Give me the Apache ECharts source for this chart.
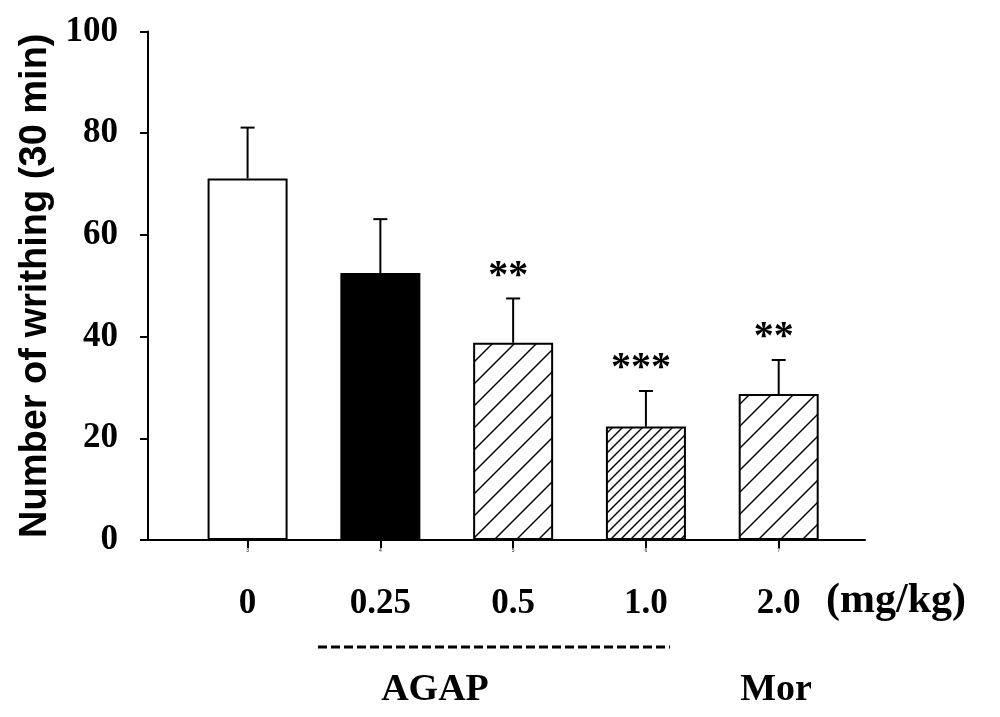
<!DOCTYPE html>
<html>
<head>
<meta charset="utf-8">
<script src="https://cdn.jsdelivr.net/npm/echarts@6/dist/echarts.min.js"></script>
<style>html,body{margin:0;padding:0;background:#fff;}#c{width:1000px;height:717px;}</style>
</head>
<body>
<div id="c"></div>
<script>
// ---- data ----
var positions = [3, 4, 5, 6, 7];
var means = [71.1, 52.5, 38.8, 22.3, 28.7];
var sems = [10.0, 10.6, 8.7, 7.0, 6.7];
var stars = ['', '', '**', '***', '**'];
var doseLabels = ['0', '0.25', '0.5', '1.0', '2.0'];
var yTicks = [0, 20, 40, 60, 80, 100];
var groupLabels = ['AGAP', 'Mor'];

function hatch(p) {
  var c = document.createElement('canvas');
  c.width = p; c.height = p;
  var g = c.getContext('2d');
  g.fillStyle = '#fff'; g.fillRect(0, 0, p, p);
  g.strokeStyle = '#000'; g.lineWidth = 1.4;
  for (var k = -1; k <= 1; k++) {
    g.beginPath();
    g.moveTo(k * p - 1, p + 1);
    g.lineTo(k * p + p + 1, -1);
    g.stroke();
  }
  return { image: c, repeat: 'repeat' };
}
var wide = hatch(22), dense = hatch(10);
var fills = ['#ffffff', '#000000', wide, dense, wide];

var chart = echarts.init(document.getElementById('c'), null, { renderer: 'canvas' });
var serif = '"Liberation Serif", "Times New Roman", serif';

var barData = positions.map(function (x, i) {
  return { value: [x, means[i]], itemStyle: { color: fills[i], borderColor: '#000', borderWidth: 2 } };
});
var errData = positions.map(function (x, i) { return [x, means[i], sems[i], i]; });

chart.setOption({
  animation: false,
  backgroundColor: '#fff',
  grid: { left: 148, right: 135, top: 31.5, bottom: 177 },
  xAxis: [{
    type: 'value', min: 2.25, max: 7.65,
    axisLine: { show: true, onZero: false, lineStyle: { color: '#000', width: 2 } },
    axisTick: { show: true, customValues: positions, length: 8, lineStyle: { color: '#000', width: 2 } },
    axisLabel: { show: true, customValues: positions, fontSize: 5, color: '#222', margin: 8 },
    splitLine: { show: false }
  }, {
    type: 'value', min: 2.25, max: 7.65, position: 'bottom',
    axisLine: { show: false }, axisTick: { show: false }, splitLine: { show: false },
    axisLabel: {
      show: true, customValues: positions, margin: 46,
      fontFamily: serif, fontWeight: 'bold', fontSize: 35, color: '#000',
      formatter: function (v) { var i = positions.indexOf(v); return i >= 0 ? doseLabels[i] : ''; }
    }
  }],
  yAxis: {
    type: 'value', min: 0, max: 100, interval: 20,
    name: 'Number of writhing (30 min)', nameLocation: 'middle', nameGap: 84,
    nameTextStyle: { fontFamily: '"Liberation Sans", Arial, sans-serif', fontWeight: 'bold', fontSize: 38, color: '#000' },
    axisLine: { show: true, lineStyle: { color: '#000', width: 2 } },
    axisTick: { show: true, length: 8, lineStyle: { color: '#000', width: 2 } },
    axisLabel: { margin: 30, fontFamily: serif, fontWeight: 'bold', fontSize: 35, color: '#000',
      formatter: function (v) { return yTicks.indexOf(v) >= 0 ? String(v) : ''; } },
    splitLine: { show: false }
  },
  series: [{
    type: 'bar', xAxisIndex: 0, barWidth: 80, data: barData, z: 2
  }, {
    type: 'custom', xAxisIndex: 0, z: 3,
    renderItem: function (params, api) {
      var x = api.value(0), m = api.value(1), e = api.value(2), idx = api.value(3);
      var p0 = api.coord([x, m]);
      var p1 = api.coord([x, m + e]);
      var children = [
        { type: 'line', shape: { x1: p0[0], y1: p0[1], x2: p1[0], y2: p1[1] }, style: { stroke: '#000', lineWidth: 2 } },
        { type: 'line', shape: { x1: p1[0] - 7, y1: p1[1], x2: p1[0] + 7, y2: p1[1] }, style: { stroke: '#000', lineWidth: 2 } }
      ];
      if (stars[idx]) {
        children.push({ type: 'text', x: p1[0] - 5, y: p1[1] - 22,
          style: { text: stars[idx], fill: '#000', font: 'bold 40px ' + serif, textAlign: 'center', textVerticalAlign: 'middle' } });
      }
      return { type: 'group', children: children };
    },
    data: errData
  }],
  graphic: [
    { type: 'text', left: 826, top: 580, style: { text: '(mg/kg)', fill: '#000', font: 'bold 42px ' + serif } },
    { type: 'line', shape: { x1: 318, y1: 647, x2: 670, y2: 647 }, style: { stroke: '#000', lineWidth: 3, lineDash: [9, 4] } },
    { type: 'text', x: 435, y: 690, style: { text: groupLabels[0], fill: '#000', font: 'bold 38px ' + serif, textAlign: 'center', textVerticalAlign: 'middle' } },
    { type: 'text', x: 776, y: 690, style: { text: groupLabels[1], fill: '#000', font: 'bold 38px ' + serif, textAlign: 'center', textVerticalAlign: 'middle' } }
  ]
});
</script>
</body>
</html>
